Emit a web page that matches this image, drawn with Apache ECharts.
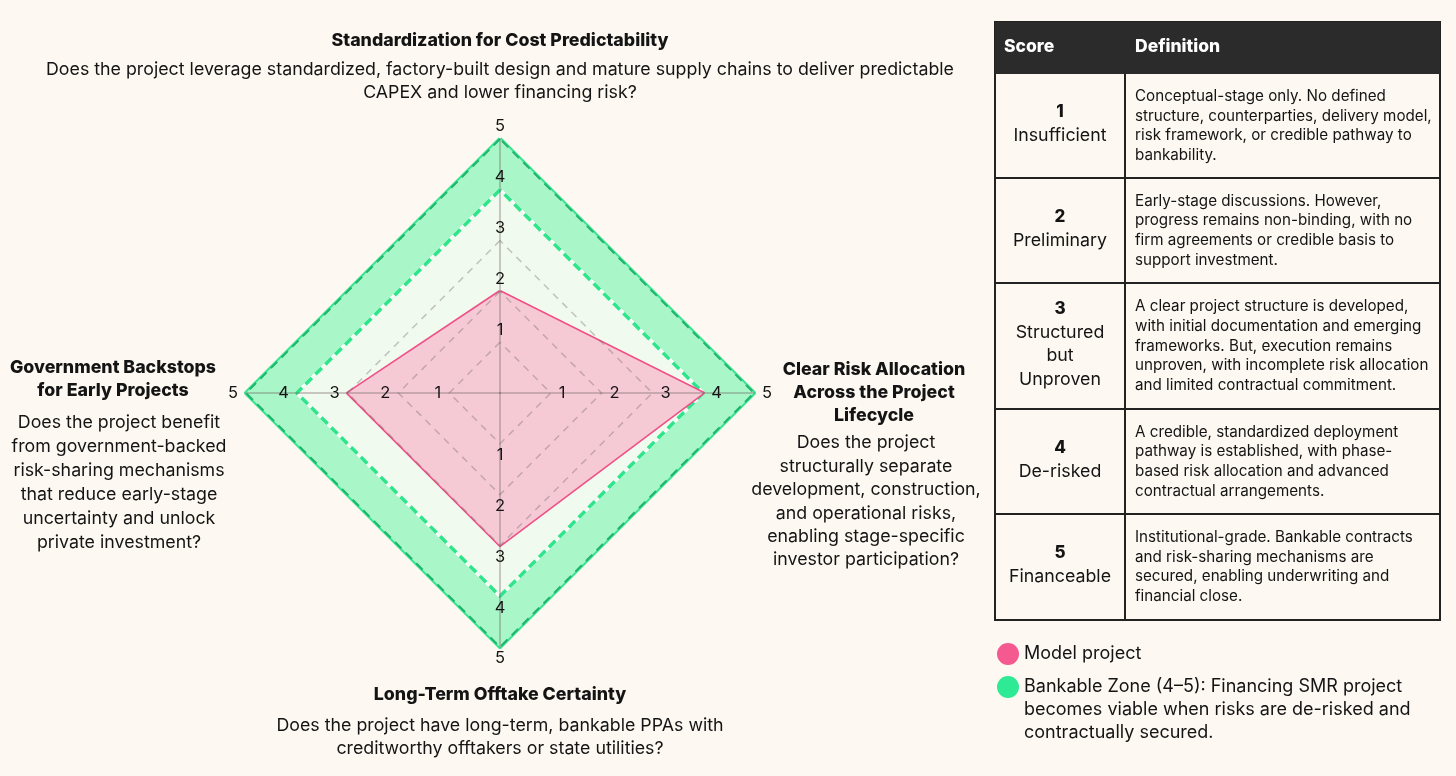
<!DOCTYPE html>
<html><head><meta charset="utf-8">
<script src="https://cdn.jsdelivr.net/npm/echarts@6/dist/echarts.min.js"></script>
<style>html,body{margin:0;padding:0;background:#fdf8f1;}#c{width:1456px;height:776px;}</style>
</head><body><div id="c"></div>
<script>
const indicatorTitles = [
  ['Standardization for Cost Predictability'],
  ['Government Backstops', 'for Early Projects'],
  ['Long-Term Offtake Certainty'],
  ['Clear Risk Allocation', 'Across the Project', 'Lifecycle']
];
const indicatorQuestions = [
  ['Does the project leverage standardized, factory-built design and mature supply chains to deliver predictable', 'CAPEX and lower financing risk?'],
  ['Does the project benefit', 'from government-backed', 'risk-sharing mechanisms', 'that reduce early-stage', 'uncertainty and unlock', 'private investment?'],
  ['Does the project have long-term, bankable PPAs with', 'creditworthy offtakers or state utilities?'],
  ['Does the project', 'structurally separate', 'development, construction,', 'and operational risks,', 'enabling stage-specific', 'investor participation?']
];
const scoreMax = 5;
const modelProject = [2, 3, 3, 4];
const bankableUpper = [5, 5, 5, 5];
const bankableLower = [4, 4, 4, 4];
const tableHeaders = ['Score', 'Definition'];
const scoreLevels = ['1', '2', '3', '4', '5'];
const scoreNames = [['Insufficient'], ['Preliminary'], ['Structured', 'but', 'Unproven'], ['De-risked'], ['Financeable']];
const scoreDefinitions = [
  ['Conceptual-stage only. No defined', 'structure, counterparties, delivery model,', 'risk framework, or credible pathway to', 'bankability.'],
  ['Early-stage discussions. However,', 'progress remains non-binding, with no', 'firm agreements or credible basis to', 'support investment.'],
  ['A clear project structure is developed,', 'with initial documentation and emerging', 'frameworks. But, execution remains', 'unproven, with incomplete risk allocation', 'and limited contractual commitment.'],
  ['A credible, standardized deployment', 'pathway is established, with phase-', 'based risk allocation and advanced', 'contractual arrangements.'],
  ['Institutional-grade. Bankable contracts', 'and risk-sharing mechanisms are', 'secured, enabling underwriting and', 'financial close.']
];
const legendModel = 'Model project';
const legendBankableLines = ['Bankable Zone (4\u20135): Financing SMR project', 'becomes viable when risks are de-risked and', 'contractually secured.'];

const FONT = 'Inter';
const INK = '#141414';
const chart = echarts.init(document.getElementById('c'));

// axis label placement for the four axes (top, left, bottom, right)
const labelPlacement = [
  { align: 'center', verticalAlign: 'bottom', padding: [0, 0, 4, 0] },
  { align: 'right', verticalAlign: 'middle', padding: [0, 8, 0, 0] },
  { align: 'center', verticalAlign: 'top', padding: [3, 0, 0, 0] },
  { align: 'left', verticalAlign: 'middle', padding: [0, 0, 0, 8] }
];

const graphics = [];
function block(x, yFirst, lines, size, weight, lh, align) {
  graphics.push({
    type: 'text', x: x, y: yFirst - lh / 2,
    style: { text: lines.join('\n'), font: weight + ' ' + size + 'px ' + FONT, fill: INK,
      align: align || 'center', verticalAlign: 'top', lineHeight: lh }
  });
}
// indicator names/questions
block(500, 41, indicatorTitles[0], 17.8, '800', 23);
block(500, 70, indicatorQuestions[0], 17.8, 'normal', 23);
block(113, 368, indicatorTitles[1], 17.8, '800', 23);
block(119, 423, indicatorQuestions[1], 17.8, 'normal', 24);
block(500, 695, indicatorTitles[2], 17.8, '800', 23);
block(500, 726, indicatorQuestions[2], 17.8, 'normal', 23);
block(874, 370, indicatorTitles[3], 17.8, '800', 23);
block(866, 443, indicatorQuestions[3], 17.8, 'normal', 23.4);

// table
const T = { x: 995, y: 22, w: 445, col: 1125, head: 74, rows: [74, 178, 283, 409, 514, 620] };
graphics.push({ type: 'rect', shape: { x: T.x, y: T.y, width: T.w, height: T.rows[5] - T.y }, style: { fill: '#fdf8f1', stroke: '#222', lineWidth: 2 } });
graphics.push({ type: 'rect', shape: { x: T.x, y: T.y, width: T.w, height: T.head - T.y }, style: { fill: '#2b2b2b' } });
for (let i = 1; i < 5; i++) {
  graphics.push({ type: 'line', shape: { x1: T.x, y1: T.rows[i], x2: T.x + T.w, y2: T.rows[i] }, style: { stroke: '#222', lineWidth: 2 } });
}
graphics.push({ type: 'line', shape: { x1: T.col, y1: T.head, x2: T.col, y2: T.rows[5] }, style: { stroke: '#222', lineWidth: 2 } });
graphics.push({ type: 'text', x: 1004, y: 47, style: { text: tableHeaders[0], font: '800 17.5px ' + FONT, fill: '#fff', verticalAlign: 'middle' } });
graphics.push({ type: 'text', x: 1135, y: 47, style: { text: tableHeaders[1], font: '800 17.5px ' + FONT, fill: '#fff', verticalAlign: 'middle' } });
for (let i = 0; i < 5; i++) {
  const cy = (T.rows[i] + T.rows[i + 1]) / 2;
  graphics.push({ type: 'text', x: 1060, y: cy - 2, style: {
    text: '{n|' + scoreLevels[i] + '}\n' + scoreNames[i].map(s => '{l|' + s + '}').join('\n'),
    align: 'center', verticalAlign: 'middle',
    rich: { n: { font: '800 17px ' + FONT, fill: INK, lineHeight: 24, align: 'center' },
            l: { font: '17.8px ' + FONT, fill: INK, lineHeight: 23.5, align: 'center' } } } });
  graphics.push({ type: 'text', x: 1135, y: cy, style: { text: scoreDefinitions[i].join('\n'),
    font: '15.2px ' + FONT, fill: INK, lineHeight: 19.7, align: 'left', verticalAlign: 'middle' } });
}

const option = {
  backgroundColor: '#fdf8f1',
  animation: false,
  legend: [
    { left: 997, top: 643, orient: 'vertical', padding: 0, itemWidth: 22, itemHeight: 22, selectedMode: false,
      textStyle: { fontFamily: FONT, fontSize: 18, color: INK },
      data: [{ name: legendModel, icon: 'circle', itemStyle: { color: '#f4598f', borderWidth: 0 } }] },
    { left: 997, top: 629.5, orient: 'vertical', padding: 0, itemWidth: 22, itemHeight: 22, selectedMode: false,
      textStyle: { fontFamily: FONT, fontSize: 18, color: INK, lineHeight: 23 },
      formatter: () => '\n\n' + legendBankableLines.join('\n'),
      data: [{ name: legendBankableLines.join(' '), icon: 'circle', itemStyle: { color: '#2eea95', borderWidth: 0 } }] }
  ],
  radar: {
    z: 3,
    center: [500, 393],
    radius: 254,
    startAngle: 90,
    shape: 'polygon',
    splitNumber: 5,
    axisName: { show: false },
    indicator: indicatorTitles.map((t, i) => ({
      name: t.join(' '), min: 0, max: scoreMax,
      axisLabel: Object.assign({ show: true, margin: 0 }, labelPlacement[i])
    })),
    axisLine: { lineStyle: { color: 'rgba(110,100,100,0.45)', width: 1.5 } },
    axisTick: { show: false },
    axisLabel: { show: true, fontFamily: FONT, fontSize: 16.5, color: INK, margin: 0,
      formatter: v => (v === 0 ? '' : String(v)) },
    splitLine: { lineStyle: { color: ['transparent', 'rgba(120,110,110,0.4)', 'rgba(120,110,110,0.4)', 'rgba(120,110,110,0.4)', 'transparent', 'transparent'], type: [7, 6], width: 1.5 } },
    splitArea: { show: false }
  },
  series: [
    { type: 'radar', symbol: 'none', silent: true, z: 1,
      data: [{ name: legendBankableLines.join(' '), value: bankableUpper,
        areaStyle: { color: '#a9f6c8', opacity: 1 }, lineStyle: { color: '#38e391', width: 4 }, itemStyle: { color: '#2eea95' } }] },
    { type: 'radar', symbol: 'none', silent: true, z: 1,
      data: [{ value: bankableUpper, lineStyle: { color: '#1fb56b', width: 2, type: [9, 6] } }] },
    { type: 'radar', symbol: 'none', silent: true, z: 1,
      data: [{ value: bankableLower, areaStyle: { color: '#f1faee', opacity: 1 }, lineStyle: { color: '#ffffff', width: 3.5 } }] },
    { type: 'radar', symbol: 'none', silent: true, z: 1,
      data: [{ value: bankableLower, lineStyle: { color: '#2ee58b', width: 3.5, type: [9, 5] } }] },
    { type: 'radar', symbol: 'none', silent: true, z: 2,
      data: [{ name: legendModel, value: modelProject,
        areaStyle: { color: '#f6cad5', opacity: 1 }, lineStyle: { color: '#ef5088', width: 3.2 }, itemStyle: { color: '#f4598f' } }] }
  ],
  graphic: graphics
};
chart.setOption(option);
</script></body></html>
